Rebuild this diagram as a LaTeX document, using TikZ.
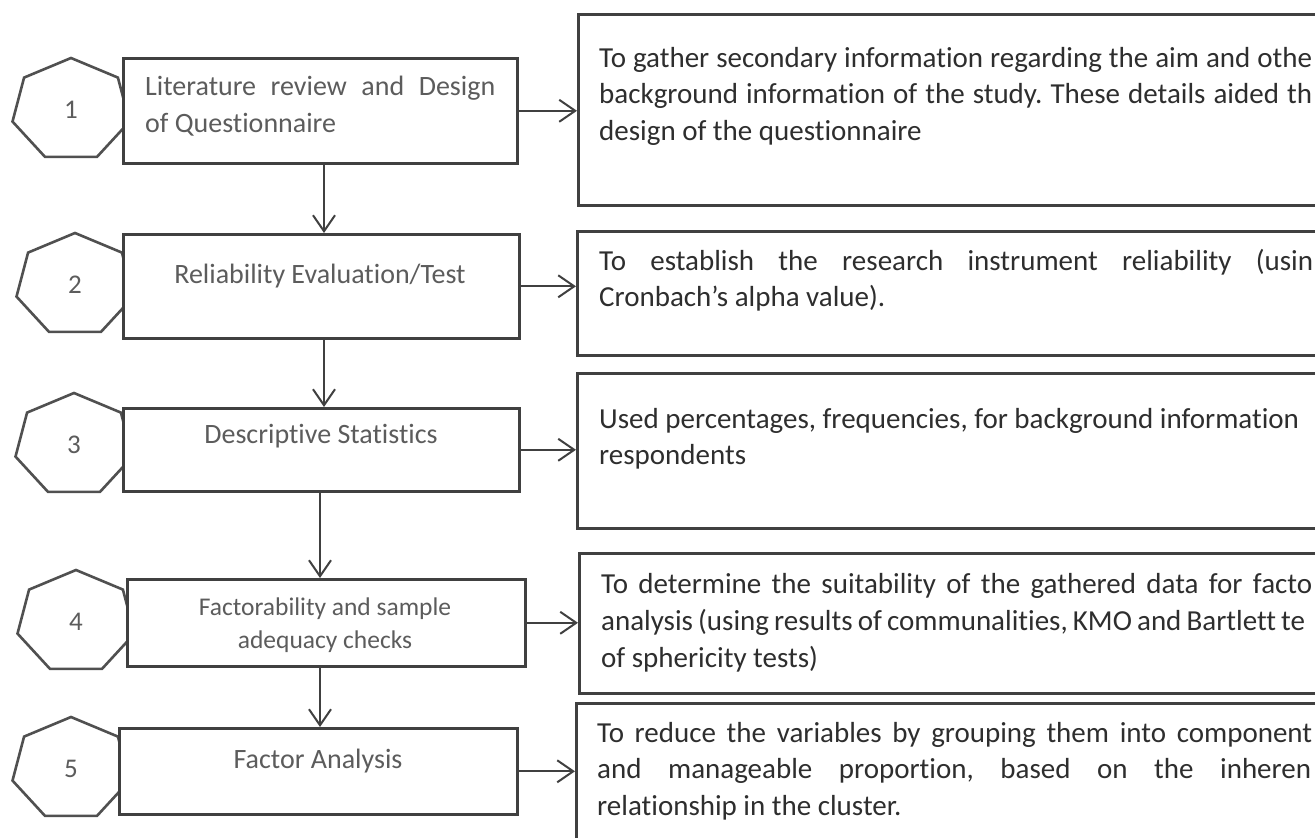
\documentclass[tikz,border=0pt]{standalone}
\usepackage{fontspec}
\setmainfont{Carlito}[Ligatures={NoCommon}]
\frenchspacing
\usetikzlibrary{arrows.meta}
\definecolor{ln}{HTML}{404040}
\definecolor{hp}{HTML}{505050}
\definecolor{lt}{HTML}{5C5C5C}
\definecolor{rt}{HTML}{2E2E2E}
\newcommand\rjust[2]{\makebox[#1][s]{#2}}
\tikzset{
  lbox/.style={draw=ln, line width=2.6pt, fill=white, anchor=north west, inner sep=0pt},
  rbox/.style={draw=ln, line width=3pt, fill=white, anchor=north west, inner sep=0pt, minimum width=800pt},
  hep/.style={draw=hp, line width=2.6pt, fill=white, line join=miter},
  num/.style={text=lt, font=\fontsize{27pt}{30pt}\selectfont, inner sep=0pt},
  ltext/.style={text=lt, font=\fontsize{28pt}{33pt}\selectfont, inner sep=0pt, anchor=base},
  rtext/.style={text=rt, inner sep=0pt, anchor=base west},
  arr/.style={draw=ln, line width=2pt, -{Straight Barb[length=16pt,width=22pt]}},
}
\begin{document}
\begin{tikzpicture}[x=1pt,y=-1pt]
\useasboundingbox (0,0) rectangle (1315,838);
\clip (0,0) rectangle (1315,838);
\fill[white] (0,0) rectangle (1315,838);

% numbered heptagons
\foreach \n/\cx/\cy in {1/71/110, 2/75/285, 3/74/445, 4/76/622, 5/71/769}{
  \begin{scope}[shift={(\cx,\cy)}]
    \draw[hep] (-90:60 and 52) -- (-38.57:60 and 52) -- (12.86:60 and 52) -- (64.29:60 and 52)
      -- (115.71:60 and 52) -- (167.14:60 and 52) -- (218.57:60 and 52) -- cycle;
    \node[num] (h\n) at (0,0) {\n};
  \end{scope}
}

% step boxes
\node[lbox, minimum width=394pt, minimum height=105pt] (b1) at (122,57) {};
\node[lbox, minimum width=396pt, minimum height=104pt] (b2) at (122,233) {};
\node[lbox, minimum width=396pt, minimum height=83pt] (b3) at (122,407) {};
\node[lbox, minimum width=398pt, minimum height=87pt] (b4) at (126,578) {};
\node[lbox, minimum width=398pt, minimum height=86pt] (b5) at (118,727) {};

\node[ltext, anchor=base west] (b1t) at (145,95) {\rjust{350pt}{Literature review and Design}};
\node[ltext, anchor=base west] (b1u) at (145,132) {of Questionnaire};
\node[ltext] (b2t) at (320,283) {Reliability Evaluation/Test};
\node[ltext] (b3t) at (321,443) {Descriptive Statistics};
\node[ltext, font=\fontsize{25.5pt}{30pt}\selectfont] (b4t) at (325,615) {Factorability and sample};
\node[ltext, font=\fontsize{25.5pt}{30pt}\selectfont] (b4u) at (325,648) {adequacy checks};
\node[ltext] (b5t) at (318,768) {Factor Analysis};

% description boxes (their right sides run off the page, as in the scan)
\node[rbox, minimum height=191pt] (r1) at (577,13) {};
\node[rbox, minimum height=124pt] (r2) at (576,230) {};
\node[rbox, minimum height=155pt] (r3) at (576,372) {};
\node[rbox, minimum height=140pt] (r4) at (578,552) {};
\node[rbox, minimum height=160pt] (r5) at (575,702) {};

\node[rtext] (r1t) at (599,67) {\parbox[t]{715pt}{\fontsize{29pt}{36.5pt}\selectfont
\rjust{713pt}{To gather secondary information regarding the aim and othe}\\
\rjust{713pt}{background information of the study. These details aided th}\\
design of the questionnaire}};
\node[rtext] (r2t) at (599,270) {\parbox[t]{715pt}{\fontsize{29pt}{36.5pt}\selectfont
\rjust{714pt}{To establish the research instrument reliability (usin}\\
Cronbach’s alpha value).}};
\node[rtext] (r3t) at (599,428) {\parbox[t]{715pt}{\fontsize{29pt}{36.5pt}\selectfont
Used percentages, frequencies, for background information\\
respondents}};
\node[rtext] (r4t) at (601,593) {\parbox[t]{713pt}{\fontsize{29pt}{37pt}\selectfont
\rjust{711pt}{To determine the suitability of the gathered data for facto}\\
\rjust{704pt}{analysis (using results of communalities, KMO and Bartlett te}\\
of sphericity tests)}};
\node[rtext] (r5t) at (597,742) {\parbox[t]{717pt}{\fontsize{29pt}{36.5pt}\selectfont
\rjust{715pt}{To reduce the variables by grouping them into component}\\
\rjust{714pt}{and manageable proportion, based on the inheren}\\
relationship in the cluster.}};

% connectors
\coordinate (va) at (324,0);
\coordinate (vb) at (320,0);
\draw[arr] (b1.south -| va) -- (b2.north -| va);
\draw[arr] (b2.south -| va) -- (b3.north -| va);
\draw[arr] (b3.south -| vb) -- (b4.north -| vb);
\draw[arr] (b4.south -| vb) -- (b5.north -| vb);
\draw[arr] (b1.east) -- (b1.east -| r1.west);
\draw[arr] (b2.east) -- (b2.east -| r2.west);
\draw[arr] (b3.east) -- (b3.east -| r3.west);
\draw[arr] (b4.east) -- (b4.east -| r4.west);
\draw[arr] (b5.east) -- (b5.east -| r5.west);
\end{tikzpicture}
\end{document}
